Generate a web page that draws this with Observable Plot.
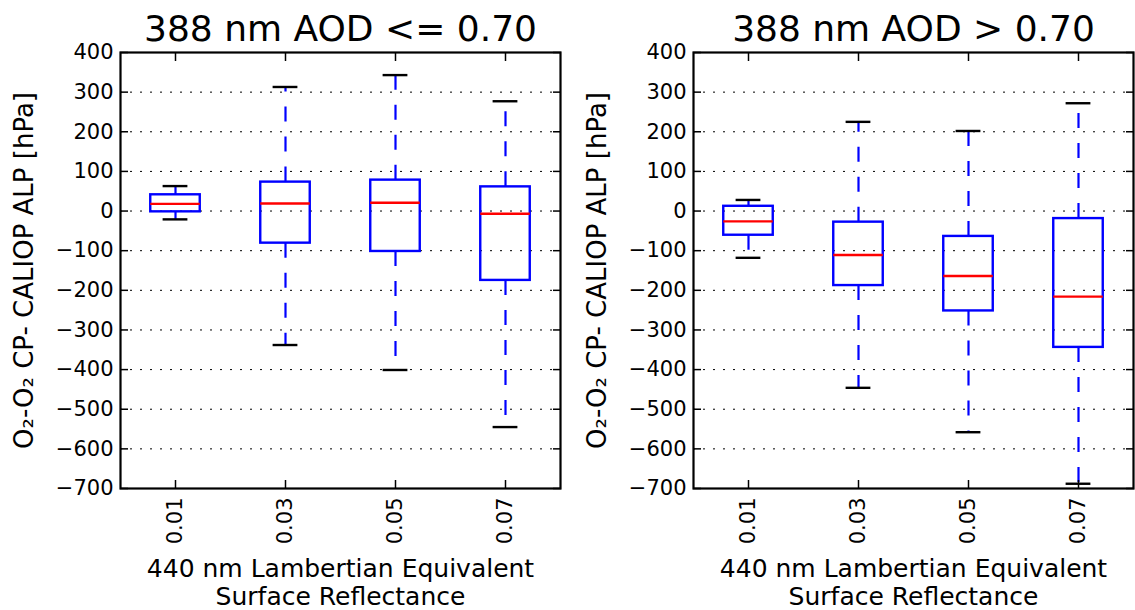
<!DOCTYPE html>
<html><head><meta charset="utf-8">
<script src="https://cdn.jsdelivr.net/npm/d3@7"></script>
<script src="https://cdn.jsdelivr.net/npm/@observablehq/plot@0.6"></script>
<style>
body{margin:0;background:#fff;}
#wrap{position:relative;width:1135px;height:610px;overflow:hidden;background:#fff;}
.panel{position:absolute;top:0;}
.panel svg{overflow:visible;}
</style></head><body><div id="wrap"></div>
<script>
// ---- data ----
const categories = ["0.01", "0.03", "0.05", "0.07"];
const yTicks = [400, 300, 200, 100, 0, -100, -200, -300, -400, -500, -600, -700];
const titles = ["388 nm AOD <= 0.70", "388 nm AOD > 0.70"];
const yLabel = "O\u2082-O\u2082 CP- CALIOP ALP [hPa]";
const xLabel = "440 nm Lambertian Equivalent\nSurface Reflectance";

// AOD <= 0.70
const lowWhiskerHigh = [63, 313, 343, 277];
const lowQ3 = [41, 73, 78, 61];
const lowMedian = [18, 19, 21, -7];
const lowQ1 = [-2, -81, -102, -175];
const lowWhiskerLow = [-21, -338, -401, -545];

// AOD > 0.70
const highWhiskerHigh = [28, 225, 202, 272];
const highQ3 = [12, -28, -64, -19];
const highMedian = [-26, -111, -164, -216];
const highQ1 = [-61, -188, -252, -344];
const highWhiskerLow = [-118, -446, -558, -688];

function rows(hi, q3, med, q1, lo) {
  return categories.map((c, i) => ({cat: c, hi: hi[i], q3: q3[i], med: med[i], q1: q1[i], lo: lo[i]}));
}

function panel(data, title, left, width, mLeft, mRight) {
  const inner = yTicks.slice(1, -1);
  const boxInset = 30.25, capInset = 42.6;
  const chart = Plot.plot({
    width, height: 610,
    marginTop: 52, marginBottom: 122, marginLeft: mLeft, marginRight: mRight,
    style: {fontFamily: "DejaVu Sans", fontSize: "21px", background: "transparent", overflow: "visible", color: "#000"},
    x: {type: "band", domain: categories, padding: 0, label: null},
    y: {domain: [-700, 400], label: null},
    marks: [
      Plot.gridY(inner, {stroke: "#000", strokeOpacity: 1, strokeWidth: 1, strokeDasharray: "2,8"}),
      Plot.ruleX(data, {x: "cat", y1: "q3", y2: "hi", stroke: "#0000ff", strokeWidth: 2.2, strokeDasharray: "15,15"}),
      Plot.ruleX(data, {x: "cat", y1: "q1", y2: "lo", stroke: "#0000ff", strokeWidth: 2.2, strokeDasharray: "15,15"}),
      Plot.barY(data, {x: "cat", y1: "q1", y2: "q3", fill: "none", stroke: "#0000ff", strokeWidth: 2.4, insetLeft: boxInset, insetRight: boxInset}),
      Plot.tickY(data, {x: "cat", y: "med", stroke: "#ff0000", strokeWidth: 2.4, insetLeft: boxInset, insetRight: boxInset}),
      Plot.tickY(data, {x: "cat", y: "hi", stroke: "#000", strokeWidth: 2.4, insetLeft: capInset, insetRight: capInset}),
      Plot.tickY(data, {x: "cat", y: "lo", stroke: "#000", strokeWidth: 2.4, insetLeft: capInset, insetRight: capInset}),
      Plot.frame({stroke: "#000", strokeWidth: 2.2}),
      Plot.axisY(yTicks, {anchor: "left", tickSize: -8, tickPadding: 15, strokeWidth: 1.5, fontSize: 21, label: null}),
      Plot.axisY(yTicks, {anchor: "right", tickSize: -8, tickFormat: () => "", strokeWidth: 1.5, label: null}),
      Plot.axisX({anchor: "bottom", tickSize: -8, tickPadding: 17, tickRotate: -90, strokeWidth: 1.5, fontSize: 21, label: null}),
      Plot.axisX({anchor: "top", tickSize: -8, tickFormat: () => "", strokeWidth: 1.5, label: null}),
      Plot.text([title], {text: d => d, frameAnchor: "top", dy: -23, fontSize: 36, lineAnchor: "middle"}),
      Plot.text([yLabel], {text: d => d, frameAnchor: "left", rotate: -90, dx: -96, fontSize: 26, lineAnchor: "middle", textAnchor: "middle"}),
      Plot.text([xLabel], {text: d => d, frameAnchor: "bottom", dy: 94, fontSize: 25, lineAnchor: "middle", lineHeight: 1.12})
    ]
  });
  const div = document.createElement("div");
  div.className = "panel";
  div.style.left = left + "px";
  div.appendChild(chart);
  document.getElementById("wrap").appendChild(div);
}

panel(rows(lowWhiskerHigh, lowQ3, lowMedian, lowQ1, lowWhiskerLow), titles[0], 0, 567, 120, 7);
panel(rows(highWhiskerHigh, highQ3, highMedian, highQ1, highWhiskerLow), titles[1], 567, 568, 126, 2);
</script></body></html>
